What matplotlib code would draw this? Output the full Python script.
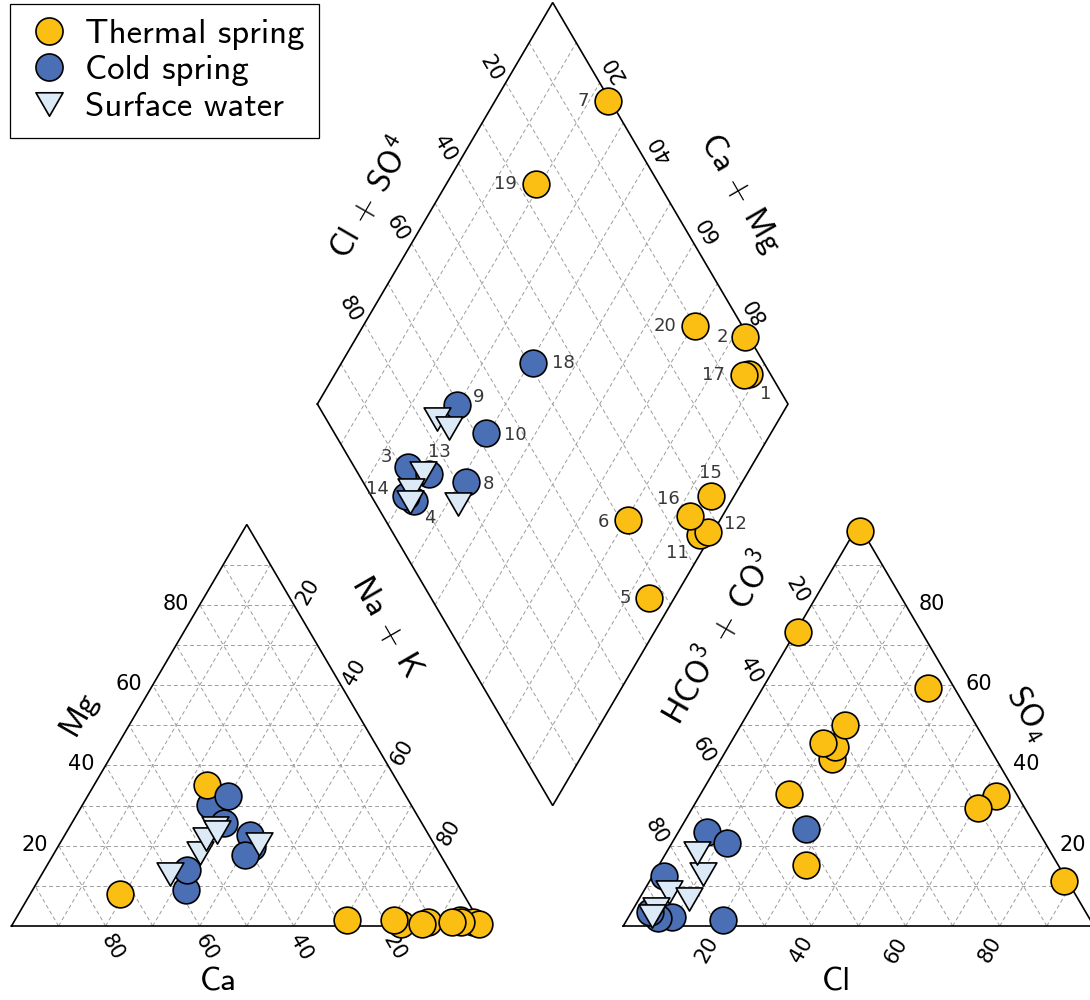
import numpy as np
import matplotlib
matplotlib.use("Agg")
import matplotlib.pyplot as plt
from matplotlib.lines import Line2D
from matplotlib.path import Path

plt.rcParams["mathtext.default"] = "regular"

# ---------------------------------------------------------------- data
# numbered springs: type, cations (meq %) and anions (meq %)
sample_id = list(range(1, 21))
sample_type = ["T", "T", "C", "C", "T", "T", "T", "C", "C", "C",
               "T", "T", "C", "C", "T", "T", "T", "C", "T", "T"]
ca = [11.0, 17.0, 42.7, 58.4, 4.0, 18.0, 41.0, 39.0, 37.7, 37.9,
      1.5, 0.5, 42.0, 55.7, 4.0, 6.0, 12.5, 41.5, 73.0, 28.0]
mg = [1.0, 0.5, 30.1, 9.0, 1.5, 1.5, 35.0, 19.8, 32.5, 22.7,
      1.0, 0.5, 25.6, 14.0, 1.0, 1.0, 0.5, 17.7, 8.0, 1.5]
na_k = [88.0, 82.5, 27.2, 32.6, 94.5, 80.5, 24.0, 41.2, 29.8, 39.4,
        97.5, 99.0, 32.4, 30.3, 95.0, 93.0, 87.0, 40.8, 19.0, 70.5]
hco3_co3 = [4.5, 0.7, 88.6, 91.6, 53.7, 48.3, 0.4, 78.1, 70.5, 67.7,
            35.0, 32.8, 85.1, 92.5, 27.9, 34.8, 5.7, 49.1, 26.2, 10.0]
cl = [63.0, 88.0, 9.2, 6.5, 31.2, 18.8, 1.1, 20.4, 6.0, 11.7,
      23.5, 22.7, 2.4, 4.0, 22.1, 19.5, 35.1, 26.8, 0.5, 60.7]
so4 = [32.5, 11.3, 2.2, 1.9, 15.1, 32.9, 98.5, 1.5, 23.5, 20.6,
       41.5, 44.5, 12.5, 3.5, 50.0, 45.7, 59.2, 24.1, 73.3, 29.3]

# surface waters (not numbered)
sw_ca = [59.9, 44.6, 50.9, 47.8, 44.6, 37.2]
sw_mg = [12.9, 24.5, 18.1, 21.6, 23.5, 20.5]
sw_na_k = [27.2, 30.9, 31.0, 30.6, 31.9, 42.3]
sw_hco3_co3 = [76.5, 75.1, 86.1, 90.8, 92.6, 82.7]
sw_cl = [10.5, 6.6, 5.4, 4.9, 4.8, 10.5]
sw_so4 = [13.0, 18.3, 8.5, 4.3, 2.6, 6.8]

tick_values = [20, 40, 60, 80]
legend_names = ["Thermal spring", "Cold spring", "Surface water"]

# ---------------------------------------------------------------- style
THERMAL = "#FBBF14"
COLD = "#4A6FB5"
SURFACE = "#DCE9F7"
GRID_KW = dict(color="#9c9c9c", lw=0.7, ls=(0, (4, 3)), zorder=1)
EDGE_KW = dict(color="black", lw=1.2, zorder=2, solid_joinstyle="miter")
MSIZE = 370
CM_SANS = "cmss10"

# sample number label offsets in pixels (dx, dy, ha)
label_offset = {
    1: (17, -20, "center"), 2: (-17, 0, "right"), 3: (-16, 10, "right"),
    4: (16, -17, "center"), 5: (-18, 0, "right"), 6: (-19, -2, "right"),
    7: (-19, 0, "right"), 8: (17, -2, "left"), 9: (16, 8, "left"),
    10: (18, -2, "left"), 11: (-22, -18, "center"), 12: (16, 8, "left"),
    13: (11, 22, "center"), 14: (-17, 7, "right"), 15: (0, 23, "center"),
    16: (-21, 17, "center"), 17: (-19, 0, "right"), 18: (19, 0, "left"),
    19: (-19, 0, "right"), 20: (-19, 0, "right"),
}

# ---------------------------------------------------------------- geometry
H = np.sqrt(3) / 2
GAP = 0.3


def cation_xy(c, m, n):
    c, m, n = (np.asarray(v, float) for v in (c, m, n))
    tot = c + m + n
    m, n = m / tot, n / tot
    return n + m / 2, m * H


def anion_xy(h, c, s):
    h, c, s = (np.asarray(v, float) for v in (h, c, s))
    tot = h + c + s
    c, s = c / tot, s / tot
    return 1 + GAP + c + s / 2, s * H


def diamond_xy(nf, af):
    nf, af = np.asarray(nf, float), np.asarray(af, float)
    return (1 + GAP + af + nf) / 2, (1 + GAP + af - nf) * H


def diamond_from(c, m, n, h, cl_, s):
    c, m, n, h, cl_, s = (np.asarray(v, float) for v in (c, m, n, h, cl_, s))
    nf = n / (c + m + n)
    af = (cl_ + s) / (h + cl_ + s)
    return diamond_xy(nf, af)


fig = plt.figure(figsize=(10.9, 10), dpi=100)
ax = fig.add_axes([0, 0, 1, 1])
ax.set_axis_off()
# side of a triangle = 470.6 px, its height = 401.5 px
SX, SY = 470.6, 401.5 / H
ax.set_xlim(-11.5 / SX, (1090 - 11.5) / SX)
ax.set_ylim((926 - 1000) / SY, 926 / SY)


def seg(p, q, **kw):
    ax.plot([p[0], q[0]], [p[1], q[1]], **kw)


# grid lines
for k in range(1, 10):
    f = k * 10
    # cation triangle
    seg(cation_xy(100 - f, f, 0), cation_xy(0, f, 100 - f), **GRID_KW)
    seg(cation_xy(100 - f, 0, f), cation_xy(0, 100 - f, f), **GRID_KW)
    seg(cation_xy(f, 0, 100 - f), cation_xy(f, 100 - f, 0), **GRID_KW)
    # anion triangle
    seg(anion_xy(100 - f, 0, f), anion_xy(0, 100 - f, f), **GRID_KW)
    seg(anion_xy(100 - f, f, 0), anion_xy(0, f, 100 - f), **GRID_KW)
    seg(anion_xy(f, 100 - f, 0), anion_xy(f, 0, 100 - f), **GRID_KW)
    # diamond
    seg(diamond_xy(f / 100, 0), diamond_xy(f / 100, 1), **GRID_KW)
    seg(diamond_xy(0, f / 100), diamond_xy(1, f / 100), **GRID_KW)

# outlines
for pts in (
    [cation_xy(100, 0, 0), cation_xy(0, 0, 100), cation_xy(0, 100, 0)],
    [anion_xy(100, 0, 0), anion_xy(0, 100, 0), anion_xy(0, 0, 100)],
    [diamond_xy(0, 0), diamond_xy(1, 0), diamond_xy(1, 1), diamond_xy(0, 1)],
):
    xs = [p[0] for p in pts] + [pts[0][0]]
    ys = [p[1] for p in pts] + [pts[0][1]]
    ax.plot(xs, ys, **EDGE_KW)


def put(text, xy, dx, dy, rot=0, size=15, family="DejaVu Sans", **kw):
    ax.annotate(text, xy=xy, xytext=(dx, dy), textcoords="offset pixels",
                ha="center", va="center", rotation=rot,
                rotation_mode="anchor", fontsize=size, family=family, **kw)


# tick labels
for v in tick_values:
    put(str(v), cation_xy(v, 0, 100 - v), 6.5, -21.5, -60)
    put(str(v), cation_xy(100 - v, v, 0), -24, 1)
    put(str(v), cation_xy(0, 100 - v, v), 14, 13, 60)
    put(str(v), anion_xy(v, 0, 100 - v), -14, 14.5, -60)
    put(str(v), anion_xy(0, 100 - v, v), 26, 1)
    put(str(v), anion_xy(100 - v, v, 0), -10, -24, 60)
    put(str(v), diamond_xy(0, 1 - v / 100), -14, 14.5, -60)
    put(str(v), diamond_xy(v / 100, 1), 14.5, 14.5, 120)

# axis titles
TS = 24
put("Ca", cation_xy(50, 0, 50), -28.5, -55.7, 0, TS, CM_SANS)
put("Mg", cation_xy(50, 50, 0), -51, 12, 60, TS, CM_SANS)
put("Na + K", cation_xy(0, 50, 50), 22, 98.5, -60, TS, CM_SANS)
put("Cl", anion_xy(50, 50, 0), -22, -56, 0, TS, CM_SANS)
put("SO$_4$", anion_xy(0, 50, 50), 52, 12, -60, TS, CM_SANS)
put("HCO$^3$ + CO$^3$", anion_xy(50, 0, 50), -24, 88.5, 60, TS, CM_SANS)
put("Cl + SO$^4$", diamond_xy(0, 0.5), -65, 6.6, 60, TS, CM_SANS)
put("Ca + Mg", diamond_xy(0.5, 1), 70, 10, -60, TS, CM_SANS)

# markers
tri_path = Path([(-1, 0.866), (1, 0.866), (0, -0.866), (-1, 0.866)],
                [Path.MOVETO, Path.LINETO, Path.LINETO, Path.CLOSEPOLY])
type_color = {"T": THERMAL, "C": COLD}
MK = dict(s=MSIZE, edgecolors="black", linewidths=1.2)

for i, sid in enumerate(sample_id):
    col = type_color[sample_type[i]]
    z = 3 + i * 0.01
    for xy in (cation_xy(ca[i], mg[i], na_k[i]),
               anion_xy(hco3_co3[i], cl[i], so4[i])):
        ax.scatter([xy[0]], [xy[1]], marker="o", color=col, zorder=z, **MK)
    dxy = diamond_from(ca[i], mg[i], na_k[i], hco3_co3[i], cl[i], so4[i])
    ax.scatter([dxy[0]], [dxy[1]], marker="o", color=col, zorder=z, **MK)
    dx, dy, ha = label_offset[sid]
    ax.annotate(str(sid), xy=(float(dxy[0]), float(dxy[1])), xytext=(dx, dy),
                textcoords="offset pixels", ha=ha, va="center",
                fontsize=13, color="#383838", family="DejaVu Sans", zorder=6)

sx, sy = cation_xy(sw_ca, sw_mg, sw_na_k)
ax.scatter(sx, sy, marker=tri_path, color=SURFACE, zorder=4, **MK)
sx, sy = anion_xy(sw_hco3_co3, sw_cl, sw_so4)
ax.scatter(sx, sy, marker=tri_path, color=SURFACE, zorder=4, **MK)
sx, sy = diamond_from(sw_ca, sw_mg, sw_na_k, sw_hco3_co3, sw_cl, sw_so4)
ax.scatter(sx, sy, marker=tri_path, color=SURFACE, zorder=4, **MK)

# legend
handles = [
    Line2D([], [], ls="none", marker="o", ms=19.5, mfc=THERMAL, mec="black", mew=1.2),
    Line2D([], [], ls="none", marker="o", ms=19.5, mfc=COLD, mec="black", mew=1.2),
    Line2D([], [], ls="none", marker=tri_path, ms=19.5, mfc=SURFACE, mec="black", mew=1.2),
]
leg = ax.legend(handles, legend_names, loc="upper left",
                bbox_to_anchor=(10 / 1090, 1 - 4 / 1000), bbox_transform=fig.transFigure,
                borderaxespad=0, prop={"family": CM_SANS, "size": 25},
                handlelength=1.4, handletextpad=0.35, labelspacing=0.15,
                borderpad=0.42, fancybox=False, framealpha=1, edgecolor="black")
leg.get_frame().set_linewidth(0.9)
leg.set_zorder(10)

fig.savefig("out.png", dpi=100)
